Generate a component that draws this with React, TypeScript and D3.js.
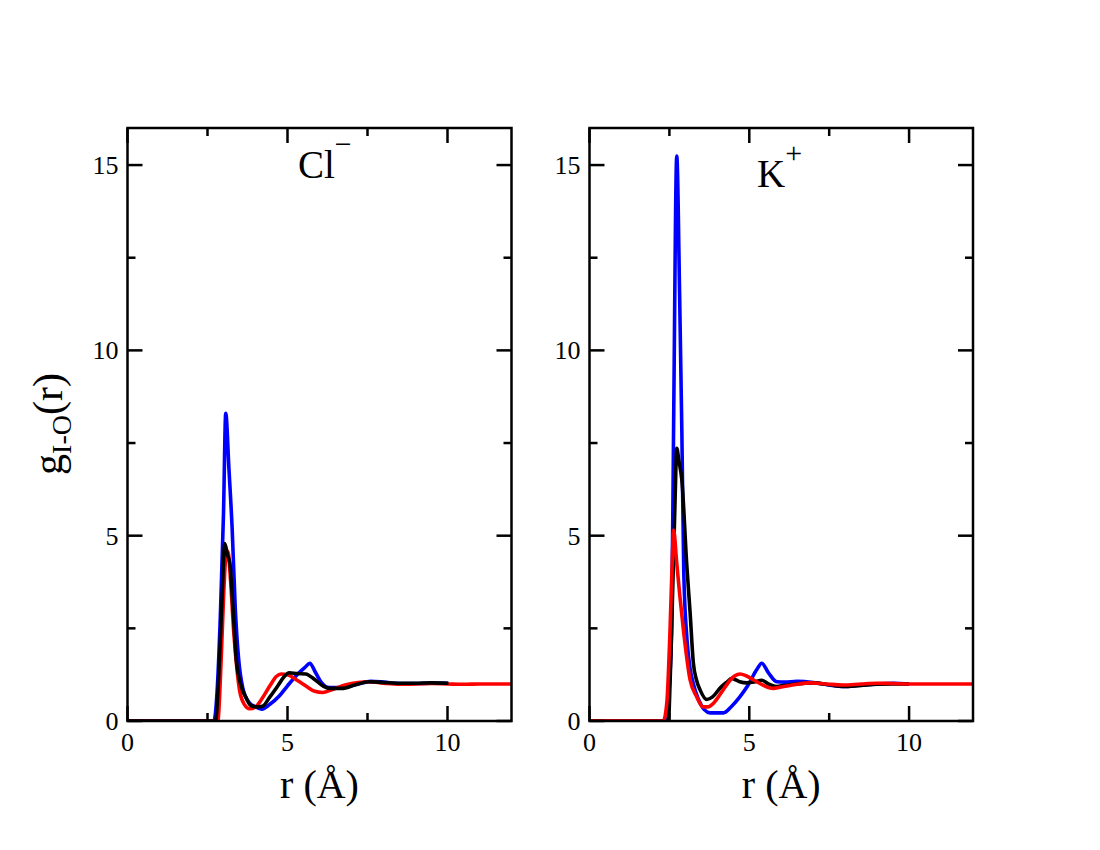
import * as d3 from "d3";
import { useEffect, useRef } from "react";

// r (Å), g(r) pairs
const clBlue = [[0, 0], [2.7, 0], [2.8, 0.8], [2.9, 2.8], [3.0, 5.6], [3.07, 8.3], [3.17, 6.8], [3.27, 5.2], [3.37, 3.0], [3.47, 1.7], [3.6, 0.9], [3.8, 0.5], [4.0, 0.38], [4.2, 0.32], [4.45, 0.45], [4.75, 0.68], [5.0, 0.95], [5.3, 1.25], [5.55, 1.45], [5.7, 1.56], [5.85, 1.35], [6.05, 1.05], [6.3, 0.9], [6.7, 0.9], [7.2, 1.0], [7.6, 1.07], [8.0, 1.05], [8.5, 1.01], [9.0, 1.01], [9.5, 1.02], [10.0, 1.02]];
const clBlack = [[0, 0], [2.75, 0], [2.85, 1.2], [2.95, 3.2], [3.04, 4.79], [3.12, 4.5], [3.2, 4.25], [3.3, 3.0], [3.4, 1.65], [3.55, 0.95], [3.71, 0.62], [3.85, 0.42], [4.02, 0.38], [4.22, 0.4], [4.45, 0.65], [4.7, 0.95], [4.9, 1.2], [5.05, 1.3], [5.3, 1.28], [5.57, 1.27], [5.85, 1.12], [6.1, 0.95], [6.3, 0.88], [6.7, 0.88], [7.1, 0.97], [7.54, 1.06], [8.0, 1.04], [8.5, 1.02], [9.0, 1.02], [9.5, 1.03], [10.03, 1.02]];
const clRed = [[0, 0], [2.82, 0], [2.92, 1.5], [3.0, 3.3], [3.07, 4.4], [3.14, 4.57], [3.22, 3.8], [3.32, 2.4], [3.42, 1.4], [3.5, 0.84], [3.65, 0.45], [3.82, 0.33], [4.0, 0.38], [4.2, 0.6], [4.45, 0.95], [4.65, 1.2], [4.8, 1.27], [5.0, 1.25], [5.3, 1.1], [5.6, 0.93], [5.85, 0.8], [6.1, 0.77], [6.4, 0.85], [6.8, 0.97], [7.2, 1.04], [7.55, 1.06], [8.0, 1.02], [8.5, 0.99], [9.0, 1.0], [9.5, 1.01], [10.0, 1.0], [10.5, 0.99], [11.0, 1.0], [11.5, 1.0], [12.0, 1.0]];

const kBlue = [[0, 0], [2.37, 0], [2.5, 1.0], [2.57, 2.5], [2.63, 7.8], [2.73, 15.24], [2.82, 11.5], [2.89, 7.8], [2.95, 4.0], [3.05, 2.2], [3.15, 1.4], [3.25, 1.0], [3.4, 0.6], [3.6, 0.3], [3.77, 0.22], [4.0, 0.22], [4.19, 0.22], [4.45, 0.4], [4.71, 0.66], [4.95, 0.95], [5.23, 1.38], [5.39, 1.56], [5.6, 1.3], [5.86, 1.06], [6.1, 1.05], [6.5, 1.07], [7.0, 1.04], [7.5, 0.97], [7.94, 0.93], [8.5, 0.97], [9.0, 1.0], [9.5, 1.02], [10.0, 1.0]];
const kBlack = [[0, 0], [2.47, 0], [2.52, 1.0], [2.57, 2.45], [2.68, 6.05], [2.73, 7.36], [2.8, 7.0], [2.89, 6.5], [3.04, 4.26], [3.15, 2.9], [3.25, 1.56], [3.35, 1.1], [3.46, 0.84], [3.67, 0.58], [3.85, 0.65], [4.1, 0.9], [4.3, 1.05], [4.45, 1.15], [4.7, 1.06], [4.92, 1.03], [5.15, 1.05], [5.39, 1.1], [5.6, 1.0], [5.85, 0.93], [6.1, 0.96], [6.38, 0.99], [7.0, 1.03], [7.5, 0.98], [7.94, 0.93], [8.5, 0.96], [9.0, 0.99], [9.5, 1.0], [10.0, 1.0]];
const kRed = [[0, 0], [2.31, 0], [2.42, 0.5], [2.52, 2.45], [2.6, 4.6], [2.63, 5.15], [2.73, 4.26], [2.83, 3.35], [2.94, 2.45], [3.15, 1.1], [3.35, 0.66], [3.56, 0.38], [3.7, 0.38], [3.9, 0.5], [4.15, 0.8], [4.4, 1.1], [4.55, 1.22], [4.71, 1.27], [4.9, 1.22], [5.15, 1.1], [5.4, 0.98], [5.75, 0.88], [6.0, 0.92], [6.4, 0.98], [6.9, 1.03], [7.4, 1.0], [7.94, 0.97], [8.5, 1.0], [9.0, 1.02], [9.5, 1.01], [10.0, 1.0], [10.5, 1.0], [11.0, 1.0], [11.5, 1.0], [12.0, 1.0]];

const xMajor = [0, 5, 10];
const xMinor = [2.5, 7.5];
const yMajor = [0, 5, 10, 15];
const yMinor = [2.5, 7.5, 12.5];

const font = "'Liberation Serif', 'Times New Roman', serif";

export default function App() {
  const ref = useRef(null);

  useEffect(() => {
    const svg = d3.select(ref.current);
    svg.selectAll("*").remove();

    const top = 128;
    const bottom = 721;

    const y = d3.scaleLinear().domain([0, 16]).range([bottom, top]);

    function panel(left, right, series, name, sup, titleX, titleY, id) {
      const x = d3.scaleLinear().domain([0, 12]).range([left, right]);
      const g = svg.append("g");

      g.append("clipPath")
        .attr("id", id)
        .append("rect")
        .attr("x", left)
        .attr("y", top)
        .attr("width", right - left)
        .attr("height", bottom - top);

      const line = d3
        .line()
        .x((d) => x(d[0]))
        .y((d) => y(d[1]))
        .curve(d3.curveMonotoneX);

      const lines = g.append("g").attr("clip-path", `url(#${id})`);
      series.forEach((s) => {
        lines
          .append("path")
          .datum(s.data)
          .attr("fill", "none")
          .attr("stroke", s.color)
          .attr("stroke-width", 3.6)
          .attr("stroke-linejoin", "round")
          .attr("d", line);
      });

      // ticks, inward on all four sides
      const tk = g.append("g").attr("stroke", "#000").attr("stroke-width", 2.5);
      const xt = [...xMajor.map((v) => [v, 15]), ...xMinor.map((v) => [v, 8])];
      xt.forEach(([v, len]) => {
        tk.append("line").attr("x1", x(v)).attr("x2", x(v)).attr("y1", bottom).attr("y2", bottom - len);
        tk.append("line").attr("x1", x(v)).attr("x2", x(v)).attr("y1", top).attr("y2", top + len);
      });
      const yt = [...yMajor.map((v) => [v, 15]), ...yMinor.map((v) => [v, 8])];
      yt.forEach(([v, len]) => {
        tk.append("line").attr("y1", y(v)).attr("y2", y(v)).attr("x1", left).attr("x2", left + len);
        tk.append("line").attr("y1", y(v)).attr("y2", y(v)).attr("x1", right).attr("x2", right - len);
      });

      g.append("rect")
        .attr("x", left)
        .attr("y", top)
        .attr("width", right - left)
        .attr("height", bottom - top)
        .attr("fill", "none")
        .attr("stroke", "#000")
        .attr("stroke-width", 2.5);

      g.selectAll(".xl")
        .data(xMajor)
        .enter()
        .append("text")
        .attr("x", (d) => x(d))
        .attr("y", 751)
        .attr("text-anchor", "middle")
        .attr("font-family", font)
        .attr("font-size", 26)
        .text((d) => d);

      g.selectAll(".yl")
        .data(yMajor)
        .enter()
        .append("text")
        .attr("x", left - 9)
        .attr("y", (d) => y(d))
        .attr("dy", "0.35em")
        .attr("text-anchor", "end")
        .attr("font-family", font)
        .attr("font-size", 26)
        .text((d) => d);

      g.append("text")
        .attr("x", (left + right) / 2)
        .attr("y", 798)
        .attr("text-anchor", "middle")
        .attr("font-family", font)
        .attr("font-size", 40)
        .text("r (Å)");

      const t = g
        .append("text")
        .attr("x", titleX)
        .attr("y", titleY)
        .attr("font-family", font)
        .attr("font-size", 39);
      t.append("tspan").text(name);
      t.append("tspan").attr("dy", -24).attr("font-size", 30).text(sup);
    }

    panel(127.5, 511.5, [
      { data: clBlue, color: "#0000ff" },
      { data: clRed, color: "#ff0000" },
      { data: clBlack, color: "#000000" },
    ], "Cl", "−", 298, 178, "clipCl");

    panel(589.5, 973, [
      { data: kBlue, color: "#0000ff" },
      { data: kBlack, color: "#000000" },
      { data: kRed, color: "#ff0000" },
    ], "K", "+", 757, 187, "clipK");

    // shared y-axis label
    const yl = svg
      .append("text")
      .attr("transform", "translate(62,424) rotate(-90)")
      .attr("text-anchor", "middle")
      .attr("font-family", font)
      .attr("font-size", 42);
    yl.append("tspan").text("g");
    yl.append("tspan").attr("dy", 9).attr("font-size", 28).text("I-O");
    yl.append("tspan").attr("dy", -9).text("(r)");
  }, []);

  return (
    <svg
      ref={ref}
      width={1100}
      height={850}
      style={{ position: "absolute", left: 0, top: 0, background: "#fff" }}
    />
  );
}
